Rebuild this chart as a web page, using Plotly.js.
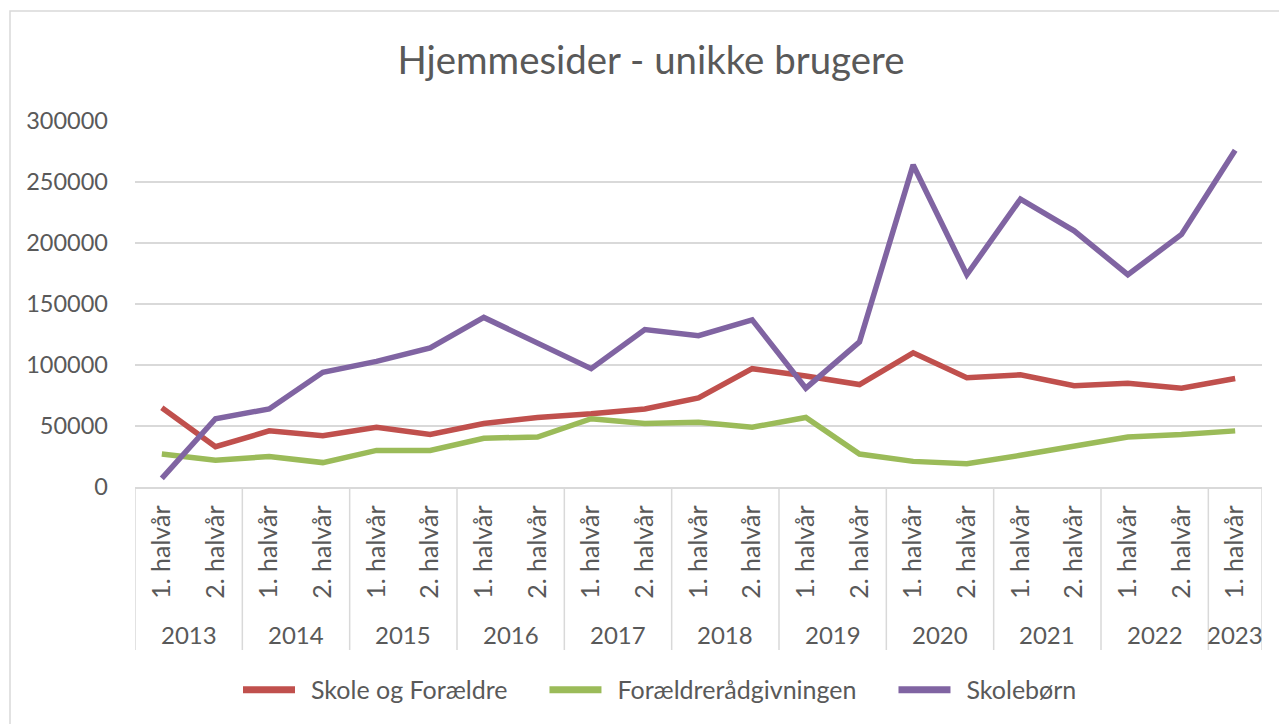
<!DOCTYPE html>
<html>
<head>
<meta charset="utf-8">
<script src="https://cdn.plot.ly/plotly-3.0.1.min.js"></script>
<style>
html,body{margin:0;padding:0;background:#fff;}
#chart{width:1279px;height:724px;}
</style>
</head>
<body>
<div id="chart"></div>
<script>
const years = ["2013","2013","2014","2014","2015","2015","2016","2016","2017","2017","2018","2018","2019","2019","2020","2020","2021","2021","2022","2022","2023"];
const halves = ["1. halvår","2. halvår","1. halvår","2. halvår","1. halvår","2. halvår","1. halvår","2. halvår","1. halvår","2. halvår","1. halvår","2. halvår","1. halvår","2. halvår","1. halvår","2. halvår","1. halvår","2. halvår","1. halvår","2. halvår","1. halvår"];
const skoleOgForaeldre = [65000,33000,46000,42000,49000,43000,52000,57000,60000,64000,73000,97000,91000,84000,110000,89500,92000,83000,85000,81000,89000];
const foraeldreraadgivningen = [27000,22000,25000,20000,30000,30000,40000,41000,56000,52000,53000,49000,57000,27000,21000,19000,26000,33000,41000,43000,46000];
const skoleboern = [7000,56000,64000,94000,103000,114000,139000,118000,97000,129000,124000,137000,81000,119000,264000,174000,236000,210000,174000,207000,276000];
const seriesNames = ["Skole og Forældre","Forældrerådgivningen","Skolebørn"];
const colors = ["#C0504D","#9BBB59","#8064A2"];

const W = 1279, H = 724;
const M = {l:135, r:17, t:121, b:237};
const pw = W - M.l - M.r, ph = H - M.t - M.b;
const px = v => (v - M.l) / pw;
const py = v => (H - M.b - v) / ph;

const font = "Lato, 'Open Sans', sans-serif";
const gray = "#595959", lineGray = "#D9D9D9";
const idx = halves.map((_, i) => i);

const data = [skoleOgForaeldre, foraeldreraadgivningen, skoleboern].map((vals, i) => ({
  type: "scatter", mode: "lines", x: idx, y: vals, name: seriesNames[i],
  line: {color: colors[i], width: 5.5, shape: "linear"},
  hoverinfo: "y+name"
}));

// year groups
const groups = [];
years.forEach((y, i) => {
  const g = groups[groups.length - 1];
  if (g && g.year === y) g.end = i; else groups.push({year: y, start: i, end: i});
});

const annotations = groups.map(g => ({
  xref: "x", yref: "paper", x: (g.start + g.end) / 2, y: py(634),
  text: g.year, showarrow: false, xanchor: "center", yanchor: "middle",
  font: {family: font, size: 24, color: gray}
}));

const shapes = [];
const bounds = [groups[0].start - 0.5].concat(groups.map(g => g.end + 0.5));
bounds.forEach(b => shapes.push({
  type: "line", xref: "x", yref: "paper", x0: b, x1: b, y0: 0, y1: py(650),
  line: {color: lineGray, width: 1.5}
}));
shapes.push({
  type: "rect", xref: "paper", yref: "paper",
  x0: px(10), x1: px(1290), y0: py(740), y1: py(11),
  line: {color: lineGray, width: 1.5}, fillcolor: "rgba(0,0,0,0)", layer: "below"
});

const layout = {
  width: W, height: H,
  margin: M,
  paper_bgcolor: "#fff", plot_bgcolor: "#fff",
  font: {family: font, color: gray, size: 22},
  title: {text: "Hjemmesider - unikke brugere", font: {family: font, size: 38.4, color: gray},
          x: 0.509, xanchor: "center", y: 0.917, yanchor: "middle", xref: "container", yref: "container"},
  xaxis: {
    type: "linear", range: [-0.5, halves.length - 0.5],
    tickmode: "array", tickvals: idx, ticktext: halves,
    showgrid: false, zeroline: false,
    showline: true, linecolor: lineGray, linewidth: 1.5,
    tickangle: -90, ticks: "", ticklabelstandoff: 7,
    tickfont: {family: font, size: 25, color: gray},
    fixedrange: true
  },
  yaxis: {
    range: [0, 300000], dtick: 50000, tick0: 0,
    tickformat: "d",
    showgrid: true, gridcolor: lineGray, gridwidth: 1.5,
    zeroline: false, showline: false, ticks: "",
    ticklabelstandoff: 26,
    tickfont: {family: font, size: 23.5, color: gray},
    fixedrange: true
  },
  showlegend: true,
  legend: {
    orientation: "h", x: 0.525, xanchor: "center", xref: "container",
    y: 0.047, yanchor: "middle", yref: "container",
    font: {family: font, size: 25, color: gray},
    itemwidth: 50, bgcolor: "rgba(0,0,0,0)"
  },
  annotations: annotations,
  shapes: shapes
};

const legendStart = 243, legendGap = 42;
Plotly.newPlot("chart", data, layout, {displayModeBar: false, staticPlot: true}).then(gd => {
  // Excel-style legend: longer, thicker line samples and wider spacing between entries
  gd.querySelectorAll(".legend [clip-path]").forEach(el => el.removeAttribute("clip-path"));
  let target = legendStart;
  gd.querySelectorAll(".legend .traces").forEach(item => {
    const path = item.querySelector(".legendlines path");
    if (path) {
      path.setAttribute("d", "M-8,0h52");
      path.style.strokeWidth = "7px";
    }
    const m = /translate\(\s*([-\d.]+)[ ,]+([-\d.]+)\s*\)/.exec(item.getAttribute("transform") || "");
    const tx = m ? parseFloat(m[1]) : 0, ty = m ? parseFloat(m[2]) : 0;
    const left = path ? path.getBoundingClientRect().left : item.getBoundingClientRect().left;
    item.setAttribute("transform", `translate(${tx + (target - left)},${ty})`);
    const txt = item.querySelector("text.legendtext");
    target = (txt ? txt.getBoundingClientRect().right : item.getBoundingClientRect().right) + legendGap;
  });
});
</script>
</body>
</html>
